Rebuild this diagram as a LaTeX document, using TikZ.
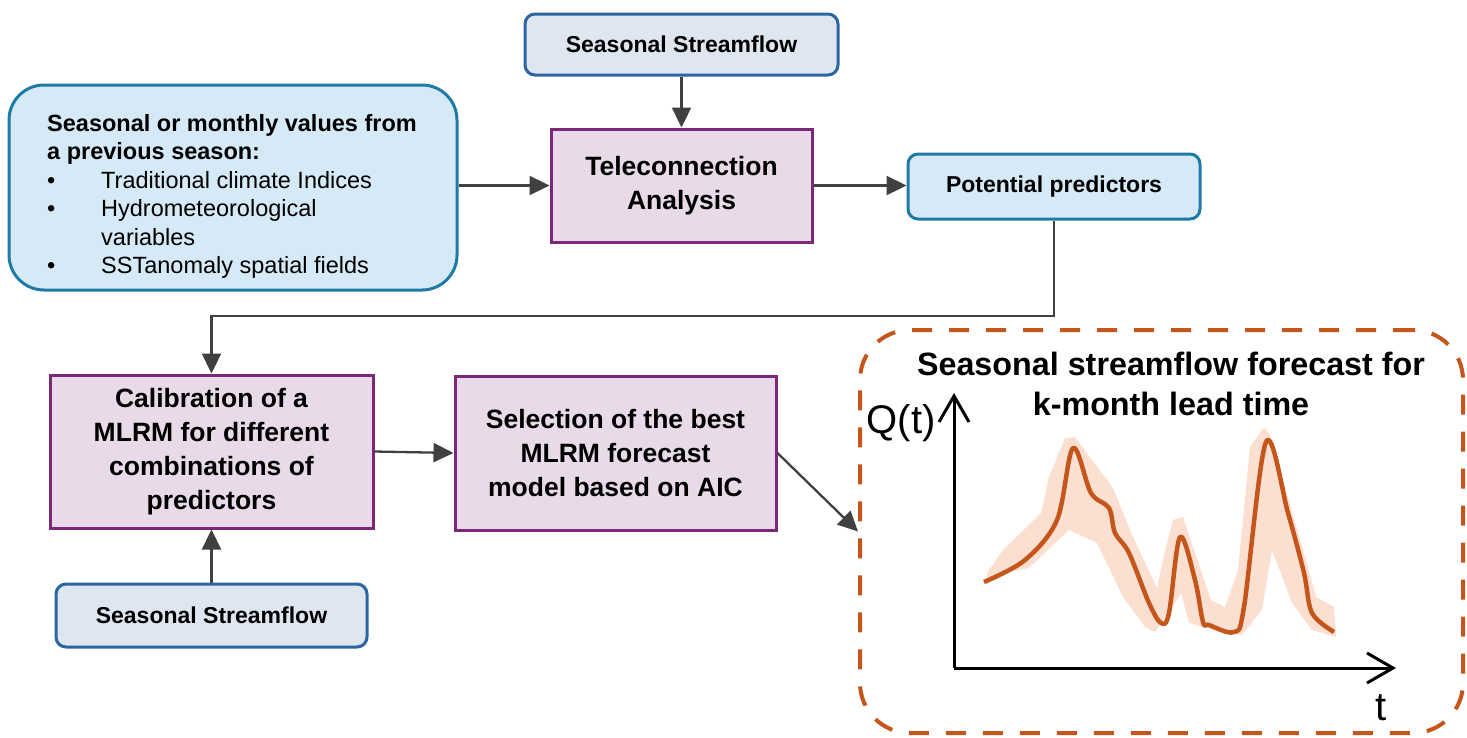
\documentclass[tikz,border=0pt]{standalone}
\usepackage{fontspec}
\setmainfont{Liberation Sans}
\usetikzlibrary{arrows.meta,calc}

\definecolor{bluefill}{HTML}{D5EAF6}
\definecolor{blueline}{HTML}{1F7BA6}
\definecolor{grayfill}{HTML}{DEE6F0}
\definecolor{navyline}{HTML}{2B65A3}
\definecolor{lilacfill}{HTML}{E8DAE8}
\definecolor{plumline}{HTML}{7B2878}
\definecolor{arrowgray}{HTML}{404040}
\definecolor{rust}{HTML}{C5561B}
\definecolor{peach}{HTML}{FBE0D2}

\newcommand\itembullet{\makebox[54pt][l]{\textbullet}}

\tikzset{
  box/.style={inner sep=0pt, line width=3pt, align=center},
  sourcebox/.style={box, draw=navyline, fill=grayfill, rounded corners=10pt,
    font=\fontsize{23}{28}\selectfont\bfseries},
  infobox/.style={box, draw=blueline, fill=bluefill},
  procbox/.style={box, draw=plumline, fill=lilacfill,
    font=\fontsize{26.5}{34}\selectfont\bfseries},
  arr/.style={draw=arrowgray, line width=2.3pt, -{Triangle[length=20pt,width=19pt]}},
  axis/.style={line width=3pt, -{Straight Barb[length=26pt,width=30pt,line width=3pt]}},
  forecastframe/.style={draw=rust, line width=4pt, dash pattern=on 20pt off 17pt,
    rounded corners=50pt, inner sep=0pt},
}

\begin{document}
\begin{tikzpicture}[x=1pt,y=-1pt]
\useasboundingbox (0,0) rectangle (1467,737);

% upper row
\node[sourcebox, minimum width=313pt, minimum height=61pt] (ss1) at (681.5,44.5) {Seasonal Streamflow};
\node[infobox, rounded corners=35pt, minimum width=448pt, minimum height=205pt] (inputs) at (233,187.5) {};
\node[inner sep=0pt, anchor=north west, align=left, font=\fontsize{23.5}{28.5}\selectfont] (inputstext) at (47,114)
  {\textbf{Seasonal or monthly values from}\\
   \textbf{a previous season:}\\
   \itembullet Traditional climate Indices\\
   \itembullet Hydrometeorological\\
   \hspace*{54pt}variables\\
   \itembullet SSTanomaly spatial fields};
\node[procbox, minimum width=261pt, minimum height=113pt] (tele) at (681.5,185.5) {Teleconnection\\Analysis};
\node[infobox, rounded corners=10pt, minimum width=292pt, minimum height=65pt,
  font=\fontsize{23}{28}\selectfont\bfseries] (pot) at (1054,186.5) {Potential predictors};

% lower row
\node[procbox, minimum width=323pt, minimum height=153pt] (calib) at (211.5,451.5)
  {Calibration of a\\MLRM for different\\combinations of\\predictors};
\node[procbox, minimum width=321pt, minimum height=154pt] (sel) at (615.5,453)
  {Selection of the best\\MLRM forecast\\model based on AIC};
\node[sourcebox, minimum width=311pt, minimum height=63pt] (ss2) at (211.5,615.5) {Seasonal Streamflow};

% forecast panel
\node[forecastframe, minimum width=603pt, minimum height=403pt] (fc) at (1161.5,531.5) {};
\node[align=center, inner sep=0pt, font=\fontsize{32.3}{40}\selectfont\bfseries] (fctitle) at (1171,384)
  {Seasonal streamflow forecast for\\k-month lead time};

% connectors
\coordinate (bend) at (1054,316);
\draw[arr] (ss1.south) -- (tele.north);
\draw[arr] (inputs.east |- tele.west) -- (tele.west);
\draw[arr] (tele.east) -- (tele.east -| pot.west);
\draw[arr] (pot.south) -- (bend) -- (calib.north |- bend) -- (calib.north);
\draw[arr] (calib.east) -- (sel.west);
\draw[arr] (ss2.north) -- (calib.south);
\draw[arr] (sel.east) -- (fc.west);

% hydrograph axes
\coordinate (orig) at (954,668);
\coordinate (ytop) at (954,393);
\coordinate (xend) at (1396,668);
\draw[axis] (orig) -- (ytop);
\draw[axis] (orig) -- (xend);
\node[font=\fontsize{40}{44}\selectfont, inner sep=0pt] (qlabel) at (901,423) {Q(t)};
\node[font=\fontsize{40}{44}\selectfont, inner sep=0pt] (tlabel) at (1381,708) {t};

% uncertainty band
\fill[peach] (987,573) -- (1003,550) -- (1041,513) -- (1049,477) -- (1065,438) -- (1075,437)
  -- (1113,488) -- (1133,537) -- (1157,588) -- (1165,550) -- (1173,520) -- (1183,517)
  -- (1211,600) -- (1225,607) -- (1238,570) -- (1250,447) -- (1264,427) -- (1270,435)
  -- (1304,553) -- (1316,597) -- (1334,607) -- (1336,637)
  -- (1312,630) -- (1292,603) -- (1272,550) -- (1262,610) -- (1242,635) -- (1225,633)
  -- (1189,623) -- (1181,593) -- (1175,603) -- (1155,632) -- (1145,627) -- (1123,597)
  -- (1097,543) -- (1069,530) -- (1029,568) -- (1009,572) -- (987,583) -- cycle;

% forecast hydrograph
\draw[rust, line width=4.5pt, line join=round] plot[smooth, tension=0.55] coordinates {
  (984,582) (1025,560) (1057,520) (1073,448) (1091,493) (1109,508) (1115,533)
  (1129,553) (1149,603) (1161,623) (1169,613) (1180,537) (1195,580) (1203,622)
  (1209,625) (1234,632) (1244,607) (1266,442) (1288,513) (1304,573) (1312,613)
  (1334,632)};
\end{tikzpicture}
\end{document}
